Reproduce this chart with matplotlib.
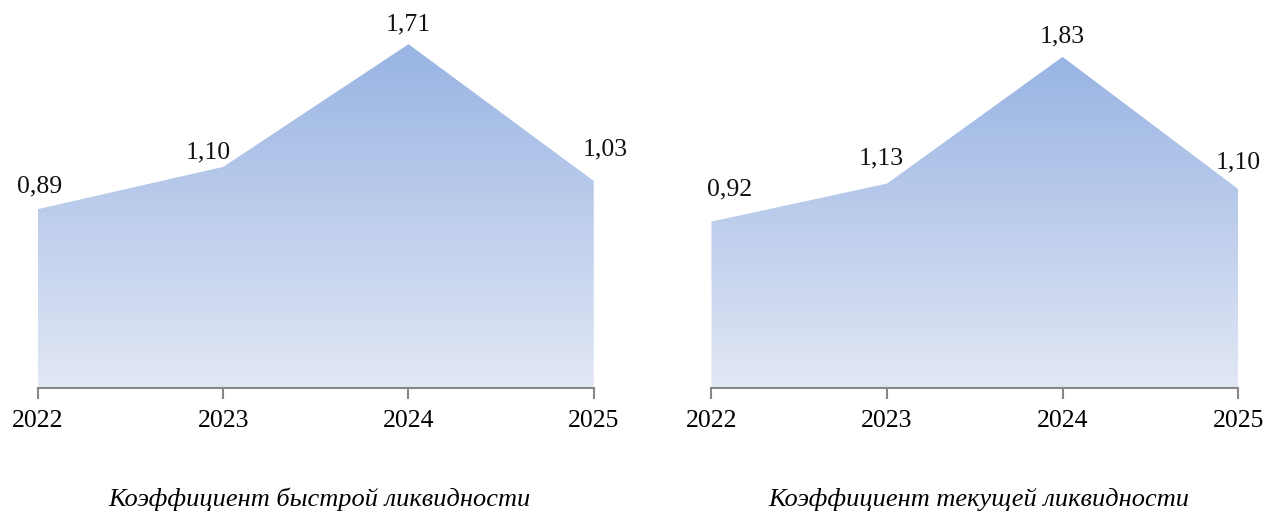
import numpy as np
import matplotlib.pyplot as plt
from matplotlib.colors import LinearSegmentedColormap
from matplotlib.patches import Polygon

plt.rcParams['font.family'] = ['Liberation Serif', 'DejaVu Serif']

years = [2022, 2023, 2024, 2025]
quick = [0.89, 1.10, 1.71, 1.03]
current = [0.92, 1.13, 1.83, 1.10]
quick_labels = ['0,89', '1,10', '1,71', '1,03']
current_labels = ['0,92', '1,13', '1,83', '1,10']
titles = ['Коэффициент быстрой ликвидности', 'Коэффициент текущей ликвидности']

cmap = LinearSegmentedColormap.from_list('grad', ['#e2e7f5', '#98b4e3'])
fs = 18.5


def draw(ax, vals, labels, ymax, offsets):
    x = np.arange(len(years))
    ax.set_xlim(0, len(years) - 1)
    ax.set_ylim(0, ymax)
    verts = [(0, 0)] + list(zip(x, vals)) + [(x[-1], 0)]
    poly = Polygon(verts, closed=True, facecolor='none', edgecolor='none')
    ax.add_patch(poly)
    grad = np.linspace(0, 1, 256).reshape(-1, 1)
    img = ax.imshow(grad, cmap=cmap, origin='lower', aspect='auto',
                    extent=[0, len(years) - 1, 0, max(vals)], zorder=1)
    img.set_clip_path(poly)
    for i, (v, lab) in enumerate(zip(vals, labels)):
        ax.annotate(lab, (i, v), xytext=offsets[i], textcoords='offset pixels',
                    ha='center', va='center', fontsize=fs, color='#111111',
                    annotation_clip=False)
    for s in ['top', 'left', 'right']:
        ax.spines[s].set_visible(False)
    ax.spines['bottom'].set_color('#888888')
    ax.spines['bottom'].set_linewidth(1.5)
    ax.set_yticks([])
    ax.set_xticks(x)
    ax.set_xticklabels([str(y) for y in years], fontsize=fs)
    ax.tick_params(axis='x', length=8, width=1.5, color='#888888', pad=8)


fig = plt.figure(figsize=(12.66, 5.12), dpi=100)
ax1 = fig.add_axes([0.030, 0.242, 0.439, 0.707])
ax2 = fig.add_axes([0.562, 0.242, 0.416, 0.707])

draw(ax1, quick, quick_labels, 1.8, [(2, 23), (-15, 14), (0, 20), (11, 32)])
draw(ax2, current, current_labels, 2.0, [(18, 32), (-6, 25), (0, 20), (0, 27)])

fig.text(0.252, 0.024, titles[0], fontsize=19, style='italic', ha='center', va='center')
fig.text(0.773, 0.024, titles[1], fontsize=19, style='italic', ha='center', va='center')

fig.savefig('out.png', dpi=100)
